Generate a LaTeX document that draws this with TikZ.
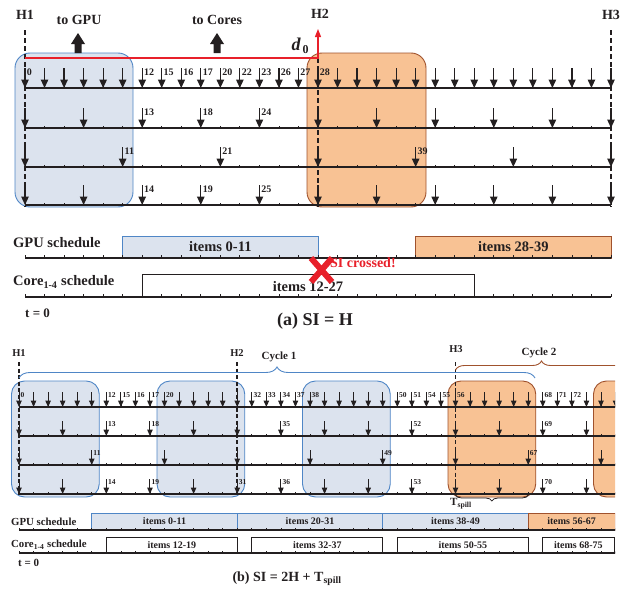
\documentclass[tikz,border=0pt]{standalone}
\usepackage{fontspec}
\setmainfont{Liberation Serif}
\usetikzlibrary{arrows.meta,decorations.pathreplacing}
\definecolor{bfill}{HTML}{DCE3EE}
\definecolor{bline}{HTML}{4F86C6}
\definecolor{ofill}{HTML}{F8C294}
\definecolor{oline}{HTML}{A0522D}
\definecolor{ink}{HTML}{231F20}
\definecolor{xred}{HTML}{E8202A}
\newcommand{\fsz}[1]{\fontsize{#1}{#1}\selectfont\bfseries}
\begin{document}
\begin{tikzpicture}[x=1pt,y=-1pt,
  axisline/.style={ink,line width=1.2pt},
  tickmark/.style={ink,line width=0.8pt},
  arrA/.style={ink,line width=1.2pt,-{Triangle[width=7.5pt,length=8.5pt]}},
  arrB/.style={ink,line width=1pt,-{Triangle[width=5.5pt,length=6.5pt]}},
  hdashA/.style={ink,line width=2.2pt,dash pattern=on 5pt off 3pt},
  hdashB/.style={ink,line width=1.7pt,dash pattern=on 4pt off 2.5pt},
  lblA/.style={font=\fsz{10},inner sep=0pt,anchor=west,text=ink},
  lblB/.style={font=\fsz{7.5},inner sep=0pt,anchor=west,text=ink},
  txt/.style={inner sep=0pt,text=ink},
  bluebox/.style={draw=bline,fill=bfill,line width=0.9pt},
  orangebox/.style={draw=oline,fill=ofill,line width=0.9pt},
  corebox/.style={draw=ink,fill=white,line width=1pt},
]
\useasboundingbox (0,0) rectangle (633,589);

%% ================= (a) =================
\draw[bluebox,rounded corners=15pt] (15,53) rectangle (133,207);
\draw[orangebox,rounded corners=15pt] (307,53) rectangle (426,207);

\foreach \y in {88,128,167,205}{
  \draw[axisline] (25,\y) -- (611,\y);
  \foreach \k in {0,...,30} \draw[tickmark] ({25+\k*19.533},\y) -- ++(0,-2.5);
}
\foreach \k in {0,...,30} \draw[arrA] ({25+\k*19.533},68) -- ({25+\k*19.533},88);
\foreach \k in {0,3,...,30} \draw[arrA] ({25+\k*19.533},108) -- ({25+\k*19.533},128);
\foreach \k in {0,5,...,30} \draw[arrA] ({25+\k*19.533},147) -- ({25+\k*19.533},167);
\foreach \k in {0,3,...,30} \draw[arrA] ({25+\k*19.533},185) -- ({25+\k*19.533},205);

\foreach \k/\t in {0/0,6/12,7/15,8/16,9/17,10/20,11/22,12/23,13/26,14/27,15/28}
  \node[lblA] (ar1-\k) at ({25+\k*19.533+1.8},72) {\t};
\foreach \k/\t in {6/13,9/18,12/24}
  \node[lblA] (ar2-\k) at ({25+\k*19.533+1.8},112) {\t};
\foreach \k/\t in {5/11,10/21,20/39}
  \node[lblA] (ar3-\k) at ({25+\k*19.533+1.8},151) {\t};
\foreach \k/\t in {6/14,9/19,12/25}
  \node[lblA] (ar4-\k) at ({25+\k*19.533+1.8},189) {\t};

\draw[hdashA] (25,30) -- (25,207);
\draw[hdashA] (318,58) -- (318,207);
\draw[hdashA] (611,30) -- (611,207);
\node[txt,font=\fsz{14}] (ah1) at (25,15) {H1};
\node[txt,font=\fsz{14}] (ah2) at (320,14) {H2};
\node[txt,font=\fsz{14}] (ah3) at (611,15) {H3};

\draw[xred,line width=1.3pt,-{Triangle[width=6pt,length=8pt]}] (25,58) -- (318,58) -- (318,29);
\node[txt,font=\bfseries] (d0) at (300,46) {\fontsize{18}{18}\selectfont\itshape d\hspace{2pt}\raisebox{-3pt}{\fontsize{12}{12}\selectfont\upshape 0}};

\foreach \x in {78,217}
  \fill[ink] (\x-3.5,53) -- (\x-3.5,44) -- (\x-7,44) -- (\x,33) -- (\x+7,44) -- (\x+3.5,44) -- (\x+3.5,53) -- cycle;
\node[txt,font=\fsz{14}] (togpu) at (79,20) {to GPU};
\node[txt,font=\fsz{14}] (tocores) at (217,20) {to Cores};

% schedules (a)
\draw[bluebox] (122.6,236) rectangle (318,258);
\draw[orangebox] (415.6,236) rectangle (611,258);
\node[txt,font=\fsz{14.5}] (ga1) at (220.3,247) {items 0-11};
\node[txt,font=\fsz{14.5}] (ga2) at (513.3,247) {items 28-39};
\draw[axisline] (25,258) -- (611,258);
\foreach \k in {0,...,30} \draw[tickmark] ({25+\k*19.533},258) -- ++(0,-3);
\draw[corebox] (142.2,274) rectangle (474.2,297);
\node[txt,font=\fsz{14.5}] (ca1) at (308,287) {items 12-27};
\draw[axisline] (25,297) -- (611,297);
\foreach \k in {0,...,30} \draw[tickmark] ({25+\k*19.533},297) -- ++(0,-3);
\node[txt,font=\fsz{14.5},anchor=west] (gsa) at (13,243) {GPU schedule};
\node[txt,font=\fsz{14.5},anchor=west] (csa) at (13,282) {Core\textsubscript{1-4} schedule};
\node[txt,font=\fsz{13},anchor=west] (t0a) at (25,313) {t = 0};
\draw[xred,line width=6pt] (311,258) -- (332,282);
\draw[xred,line width=6pt] (332,258) -- (311,282);
\node[txt,font=\fsz{14},text=xred,anchor=west] (sic) at (330,263) {SI crossed!};
\node[txt,font=\fsz{18}] (capa) at (315,321) {(a) SI = H};

%% ================= (b) =================
\begin{scope}
\clip (0,340) rectangle (615,589);
\foreach \a in {0,10,20}
  \draw[bluebox,rounded corners=13pt] ({19+\a*14.55-7.5},381) rectangle ({19+(\a+5)*14.55+7.5},497);
\foreach \a in {30,40}
  \draw[orangebox,rounded corners=13pt] ({19+\a*14.55-7.5},381) rectangle ({19+(\a+5)*14.55+7.5},497);

\foreach \y in {407,436,465,494}{
  \draw[axisline,line width=1.1pt] (19,\y) -- (620,\y);
  \foreach \k in {0,...,41} \draw[tickmark,line width=0.7pt] ({19+\k*14.55},\y) -- ++(0,-2);
}
\foreach \k in {0,...,41} \draw[arrB] ({19+\k*14.55},392) -- ({19+\k*14.55},407);
\foreach \k in {0,3,...,39} \draw[arrB] ({19+\k*14.55},421) -- ({19+\k*14.55},436);
\foreach \k in {0,5,...,40} \draw[arrB] ({19+\k*14.55},450) -- ({19+\k*14.55},465);
\foreach \k in {0,3,...,39} \draw[arrB] ({19+\k*14.55},479) -- ({19+\k*14.55},494);

\foreach \k/\t in {0/0,6/12,7/15,8/16,9/17,10/20,16/32,17/33,18/34,19/37,20/38,26/50,27/51,28/54,29/55,30/56,36/68,37/71,38/72}
  \node[lblB] (br1-\k) at ({19+\k*14.55+1.5},395) {\t};
\foreach \k/\t in {6/13,9/18,18/35,27/52,36/69}
  \node[lblB] (br2-\k) at ({19+\k*14.55+1.5},424) {\t};
\foreach \k/\t in {5/11,25/49,35/67}
  \node[lblB] (br3-\k) at ({19+\k*14.55+1.5},453) {\t};
\foreach \k/\t in {6/14,9/19,15/31,18/36,27/53,36/70}
  \node[lblB] (br4-\k) at ({19+\k*14.55+1.5},482) {\t};

\draw[hdashB] (19,362) -- (19,495);
\draw[hdashB] (237.25,362) -- (237.25,495);
\draw[hdashB] (455.5,362) -- (455.5,495);

\draw[bline,line width=0.9pt,decorate,decoration={brace,amplitude=11pt}] (19,378) -- (535,378);
\draw[oline,line width=0.9pt,decorate,decoration={brace,amplitude=9pt}] (455.5,370) -- (627.5,370);
\draw[ink,line width=0.8pt,decorate,decoration={brace,amplitude=6pt}] (528.25,495) -- (455.5,495);

% schedules (b)
\draw[bluebox] (91.75,513) rectangle (237.25,530);
\draw[bluebox] (237.25,513) rectangle (382.75,530);
\draw[bluebox] (382.75,513) rectangle (528.25,530);
\draw[orangebox] (528.25,513) rectangle (615,530);
\node[txt,font=\fsz{10}] (gb1) at (164.5,521.5) {items 0-11};
\node[txt,font=\fsz{10}] (gb2) at (310,521.5) {items 20-31};
\node[txt,font=\fsz{10}] (gb3) at (455.5,521.5) {items 38-49};
\node[txt,font=\fsz{10}] (gb4) at (571.6,521.5) {items 56-67};
\draw[axisline,line width=1.1pt] (19,530) -- (620,530);
\foreach \k in {0,...,41} \draw[tickmark,line width=0.7pt] ({19+\k*14.55},530) -- ++(0,-2.5);
\draw[corebox] (106.3,537) rectangle (237.25,553);
\draw[corebox] (251.8,537) rectangle (382.75,553);
\draw[corebox] (397.3,537) rectangle (528.25,553);
\draw[corebox] (542.8,537) rectangle (614,553);
\node[txt,font=\fsz{10}] (cb1) at (171.8,545.5) {items 12-19};
\node[txt,font=\fsz{10}] (cb2) at (317.3,545.5) {items 32-37};
\node[txt,font=\fsz{10}] (cb3) at (462.8,545.5) {items 50-55};
\node[txt,font=\fsz{10}] (cb4) at (578.4,545.5) {items 68-75};
\draw[axisline,line width=1.1pt] (19,553) -- (620,553);
\foreach \k in {0,...,41} \draw[tickmark,line width=0.7pt] ({19+\k*14.55},553) -- ++(0,-2.5);
\end{scope}

\node[txt,font=\fsz{10.5}] (bh1) at (19,353) {H1};
\node[txt,font=\fsz{10.5}] (bh2) at (237,353) {H2};
\node[txt,font=\fsz{10.5}] (bh3) at (456,349) {H3};
\node[txt,font=\fsz{11}] (cy1) at (279,357) {Cycle 1};
\node[txt,font=\fsz{11}] (cy2) at (539,353) {Cycle 2};
\node[txt,font=\fsz{11}] (tsp) at (461,504) {T\textsubscript{spill}};
\node[txt,font=\fsz{10.8},anchor=west] (gsb) at (11,522) {GPU schedule};
\node[txt,font=\fsz{10.8},anchor=west] (csb) at (11,545) {Core\textsubscript{1-4} schedule};
\node[txt,font=\fsz{11},anchor=west] (t0b) at (18,563) {t = 0};
\node[txt,font=\fsz{14}] (capb) at (287,579) {(b) SI = 2H + T\textsubscript{spill}};
\end{tikzpicture}
\end{document}
